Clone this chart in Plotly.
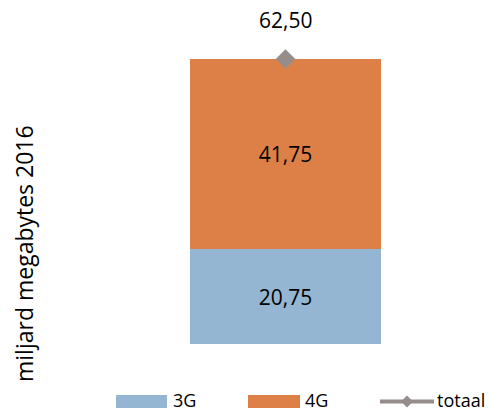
import plotly.graph_objects as go

categories = ["2016"]
g3 = [20.75]
g4 = [41.75]
totaal = [a + b for a, b in zip(g3, g4)]
series_names = ["3G", "4G", "totaal"]
y_title = "miljard megabytes 2016"

W, H = 491, 412
C3, C4, CT = "#94B6D2", "#DD8047", "#968C8C"
FONT = "Open Sans"

def px(x):
    return x / W

def py(y):
    return 1 - y / H

fig = go.Figure()
for vals, name, col in [(g3, series_names[0], C3), (g4, series_names[1], C4)]:
    fig.add_trace(go.Bar(x=categories, y=vals, name=name, marker_color=col,
                         marker_line_width=0,
                         texttemplate="%{y:.2f}", textposition="inside",
                         insidetextanchor="middle",
                         textfont=dict(color="black", size=21, family=FONT),
                         width=191 / 391, showlegend=False))
fig.add_trace(go.Scatter(x=categories, y=totaal, name=series_names[2], mode="markers",
                         marker=dict(symbol="diamond", size=15, color=CT),
                         showlegend=False))

for i, t in enumerate(totaal):
    fig.add_annotation(x=i, y=t, xref="x", yref="y", text=f"{t:.2f}".replace(".", ","),
                       showarrow=False, yshift=39, xanchor="center", yanchor="middle",
                       font=dict(size=21, family=FONT, color="black"))

fig.add_annotation(x=px(24), y=py(254), xref="paper", yref="paper", text=y_title,
                   textangle=-90, showarrow=False, xanchor="center", yanchor="middle",
                   font=dict(size=23, family=FONT, color="black"))

# manual legend
LY = 401.5
ly0, ly1 = py(LY - 6.5), py(LY + 6.5)
fig.add_shape(type="rect", xref="paper", yref="paper", x0=px(116), x1=px(167), y0=ly1, y1=ly0,
              fillcolor=C3, line_width=0)
fig.add_shape(type="rect", xref="paper", yref="paper", x0=px(248), x1=px(300), y0=ly1, y1=ly0,
              fillcolor=C4, line_width=0)
fig.add_shape(type="line", xref="paper", yref="paper", x0=px(380), x1=px(434), y0=py(LY), y1=py(LY),
              line=dict(color=CT, width=4))
fig.add_shape(type="path", xref="paper", yref="paper",
              path=f"M {px(401)},{py(LY)} L {px(407)},{py(LY - 6)} L {px(413)},{py(LY)} L {px(407)},{py(LY + 6)} Z",
              fillcolor=CT, line_width=0)
for xx, t in [(172, series_names[0]), (304, series_names[1]), (436, series_names[2])]:
    fig.add_annotation(x=px(xx), y=py(399.5), xref="paper", yref="paper", text=t,
                       xanchor="left", yanchor="middle", showarrow=False, borderpad=0,
                       font=dict(size=18, family=FONT, color="black"))

fig.update_layout(
    width=W, height=H, margin=dict(l=0, r=0, t=0, b=0),
    paper_bgcolor="white", plot_bgcolor="white",
    barmode="stack", separators=", ", showlegend=False,
    xaxis=dict(type="category", domain=[px(90), px(481)], range=[-0.5, 0.5],
               showticklabels=False, showgrid=False,
               zeroline=False, showline=False, ticks=""),
    yaxis=dict(domain=[py(344), py(10)], range=[0, 334 / 4.56], showticklabels=False,
               showgrid=False, zeroline=False, showline=False, ticks=""),
)
fig.write_html("out.html", config={"displayModeBar": False},
               post_script="document.body.style.margin='0';")
